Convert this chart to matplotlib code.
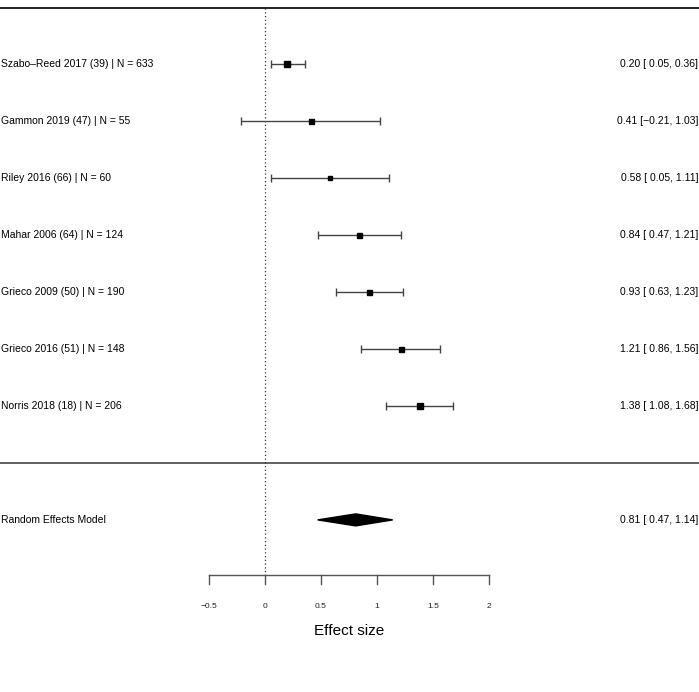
import matplotlib
matplotlib.use('Agg')
import matplotlib.pyplot as plt
from matplotlib.patches import Polygon

# study data
studies = ['Szabo–Reed 2017 (39) | N = 633', 'Gammon 2019 (47) | N = 55',
           'Riley 2016 (66) | N = 60', 'Mahar 2006 (64) | N = 124',
           'Grieco 2009 (50) | N = 190', 'Grieco 2016 (51) | N = 148',
           'Norris 2018 (18) | N = 206']
est = [0.20, 0.41, 0.58, 0.84, 0.93, 1.21, 1.38]
lo = [0.05, -0.21, 0.05, 0.47, 0.63, 0.86, 1.08]
hi = [0.36, 1.03, 1.11, 1.21, 1.23, 1.56, 1.68]
msize = [4.2, 3.6, 3.1, 3.6, 3.6, 3.6, 3.8]

re_label = 'Random Effects Model'
re_est, re_lo, re_hi = 0.81, 0.47, 1.14

xticks = [-0.5, 0, 0.5, 1, 1.5, 2]
xticklabels = ['−0.5', '0', '0.5', '1', '1.5', '2']

plt.rcParams['font.family'] = ['Liberation Sans', 'DejaVu Sans']

fig = plt.figure(figsize=(6.99, 6.92), dpi=100)
ax = fig.add_axes([0, 0, 1, 1])
ax.set_xlim(-265 / 112, 434 / 112)
ax.set_ylim(11.02, -1.123)
ax.axis('off')

xl, xr = ax.get_xlim()

def fmt(v):
    return f'{v:.2f}'.replace('-', '−')

def ci_text(e, l, h):
    ls = fmt(l) if l < 0 else ' ' + fmt(l)
    return f'{fmt(e)} [{ls}, {fmt(h)}]'

# top border and separator
ax.plot([xl, xr], [-0.982, -0.982], color='black', lw=1.2)
ax.plot([xl, xr], [7.0, 7.0], color='#555555', lw=1.3)

# zero reference line
ax.plot([0, 0], [-0.982, 8.965], color='#333333', lw=0.9, ls=(0, (1, 2)))

for i, name in enumerate(studies):
    ax.errorbar(est[i], i, xerr=[[est[i] - lo[i]], [hi[i] - est[i]]],
                fmt='s', color='black', ecolor='#444444', elinewidth=1.0,
                capsize=2.6, capthick=1.0, ms=msize[i])
    ax.text(xl + 0.005, i, name, ha='left', va='center', fontsize=7.5)
    ax.text(xr - 0.005, i, ci_text(est[i], lo[i], hi[i]), ha='right', va='center', fontsize=7.5)

# summary diamond
r = 8
dh = 6 / 57
ax.add_patch(Polygon([(re_lo, r), (re_est, r - dh), (re_hi, r), (re_est, r + dh)],
                     closed=True, color='black'))
ax.text(xl + 0.005, r, re_label, ha='left', va='center', fontsize=7.5)
ax.text(xr - 0.005, r, ci_text(re_est, re_lo, re_hi), ha='right', va='center', fontsize=7.5)

# x axis drawn by hand like the R forest plot
ya = 8.965
ax.plot([xticks[0], xticks[-1]], [ya, ya], color='#555555', lw=1.0)
for t, lab in zip(xticks, xticklabels):
    ax.plot([t, t], [ya, ya + 0.16], color='#555555', lw=1.0)
    ax.text(t, ya + 0.55, lab, ha='center', va='center', fontsize=6.0, color='#222222')
ax.text((xticks[0] + xticks[-1]) / 2, 9.95, 'Effect size', ha='center', va='center', fontsize=11)

fig.savefig('out.png', dpi=100)
